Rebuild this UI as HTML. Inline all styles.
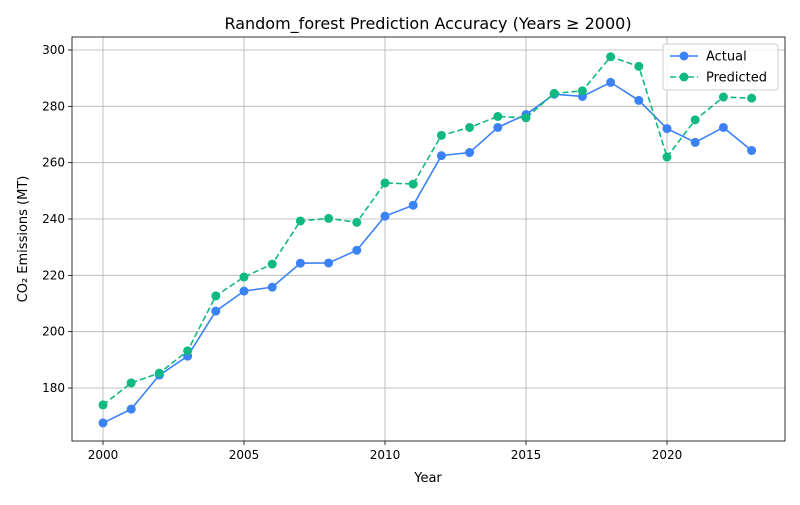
<!DOCTYPE html>
<html><head><meta charset="utf-8"><style>
body{margin:0;background:#fff;font-family:"Liberation Sans","DejaVu Sans",sans-serif}
svg text{font-family:"DejaVu Sans","Liberation Sans",sans-serif}
</style></head><body>
<svg id="c" width="800" height="500" xmlns="http://www.w3.org/2000/svg"></svg>
<script>
const years=[2000,2001,2002,2003,2004,2005,2006,2007,2008,2009,2010,2011,2012,2013,2014,2015,2016,2017,2018,2019,2020,2021,2022,2023];
const actual=[167.6,172.5,184.6,191.3,207.3,214.4,215.8,224.3,224.4,228.9,241,244.9,262.5,263.6,272.5,277.1,284.3,283.5,288.5,282.1,272.1,267.2,272.5,264.3];
const predicted=[174,181.8,185.3,193.2,212.7,219.4,224,239.3,240.2,238.8,252.8,252.4,269.7,272.5,276.4,275.9,284.6,285.5,297.6,294.2,262,275.2,283.3,282.9];
const xTicks=[2000,2005,2010,2015,2020];
const yTicks=[180,200,220,240,260,280,300];
const NS="http://www.w3.org/2000/svg",svg=document.getElementById('c');
const L=72,R=785,T=37,B=441;
const xs=y=>103+(y-2000)*28.2;
const ys=v=>388-(v-180)*2.8167;
function el(t,a,p){const e=document.createElementNS(NS,t);for(const k in a)e.setAttribute(k,a[k]);(p||svg).appendChild(e);return e;}
xTicks.forEach(t=>{const x=xs(t);
const g=el('line',{x1:x,x2:x,y1:T,y2:B,stroke:'#b0b0b0','stroke-width':0.8});

el('line',{x1:x,x2:x,y1:B,y2:B+4,stroke:'#000','stroke-width':0.8});
const tx=el('text',{x:x,y:B+18,'text-anchor':'middle','font-size':12});tx.textContent=t;
});
yTicks.forEach(t=>{const y=ys(t);
const g=el('line',{x1:L,x2:R,y1:y,y2:y,stroke:'#b0b0b0','stroke-width':0.8});

el('line',{x1:L-4,x2:L,y1:y,y2:y,stroke:'#000','stroke-width':0.8});
const tx=el('text',{x:L-7,y:y+4,'text-anchor':'end','font-size':12});tx.textContent=t;
});
const fr=el('rect',{x:L,y:T,width:R-L,height:B-T,fill:'none',stroke:'#000','stroke-width':0.8});

function series(vals,color,dash,name){
const p=el('polyline',{points:vals.map((v,i)=>xs(years[i])+','+ys(v)).join(' '),fill:'none',stroke:color,'stroke-width':1.6,'stroke-dasharray':dash});

vals.forEach((v,i)=>{const c=el('circle',{cx:xs(years[i]),cy:ys(v),r:4.5,fill:color});
});}
series(actual,'#3b82f6','none','actual');
series(predicted,'#10b981','6,3','predicted');
const t=el('text',{x:428,y:29,'text-anchor':'middle','font-size':16});t.textContent='Random_forest Prediction Accuracy (Years ≥ 2000)';

const xl=el('text',{x:428,y:482,'text-anchor':'middle','font-size':13});xl.textContent='Year';

const yl=el('text',{x:27,y:239,'text-anchor':'middle','font-size':13,transform:'rotate(-90 27 239)'});yl.textContent='CO₂ Emissions (MT)';

const lg=el('g',{});
el('rect',{x:663,y:44,width:115,height:46,rx:3,fill:'#fff','fill-opacity':0.85,stroke:'#ccc'},lg);
[['Actual','#3b82f6','none',56],['Predicted','#10b981','6,3',77]].forEach(([n,c,d,y])=>{
const g=el('g',{},lg);
el('line',{x1:670,x2:698,y1:y,y2:y,stroke:c,'stroke-width':1.6,'stroke-dasharray':d},g);
el('circle',{cx:684,cy:y,r:4.5,fill:c},g);
const tx=el('text',{x:706,y:y+4.5,'font-size':13},g);tx.textContent=n;});
</script>
</body></html>
